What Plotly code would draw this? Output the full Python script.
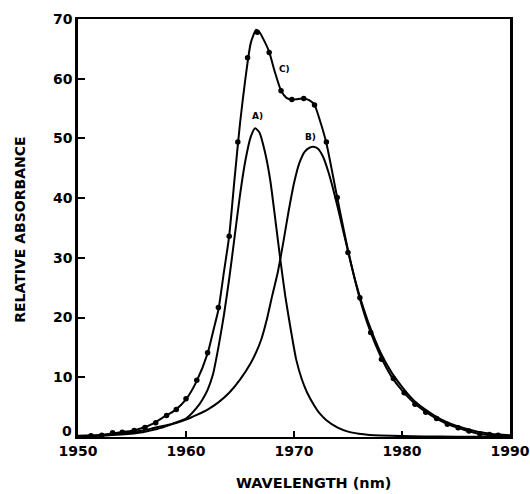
import plotly.graph_objects as go

# ---- data ----
# Component A
a_x = [1950, 1952, 1954, 1956, 1957, 1958, 1959, 1960, 1960.5, 1961, 1961.5, 1962, 1962.5,
       1963, 1963.5, 1964, 1964.5, 1965, 1965.5, 1966, 1966.4, 1966.8, 1967.3, 1967.8,
       1968.3, 1968.75, 1969.2, 1969.7, 1970.2, 1970.7, 1971.2, 1971.8, 1972.4, 1973,
       1974, 1975, 1976, 1977, 1978, 1980, 1982, 1985, 1990]
a_y = [0.1, 0.2, 0.4, 0.8, 1.2, 1.7, 2.4, 3.1, 3.9, 4.9, 6.2, 7.9, 10.5,
       15.0, 20.3, 26.5, 33.5, 40.5, 46.3, 50.3, 51.7, 51.0, 47.8, 43.0,
       36.0, 29.5, 23.5, 18.0, 13.0, 9.8, 7.5, 5.5, 3.9, 2.8,
       1.6, 0.9, 0.55, 0.35, 0.25, 0.15, 0.1, 0.05, 0.03]

# Component B
b_x = [1950, 1952, 1954, 1955, 1956, 1957, 1958, 1959, 1960, 1961, 1962, 1963, 1964,
       1965, 1966, 1966.5, 1967, 1967.5, 1968, 1968.5, 1969, 1969.5, 1970, 1970.5,
       1971, 1971.5, 1971.8, 1972.2, 1972.7, 1973.2, 1973.7, 1974.2, 1974.7, 1975.2,
       1975.7, 1976.2, 1977, 1978, 1979, 1980, 1981, 1982, 1983, 1984, 1985, 1986,
       1987, 1988, 1989, 1990]
b_y = [0.2, 0.35, 0.6, 0.85, 1.1, 1.5, 1.9, 2.3, 2.9, 3.7, 4.6, 5.8, 7.4,
       9.6, 12.4, 14.2, 16.5, 19.8, 23.8, 27.6, 32.5, 37.8, 42.5, 45.9,
       47.8, 48.5, 48.6, 48.3, 46.9, 44.3, 41.0, 37.3, 33.4, 29.6,
       26.0, 22.9, 18.6, 14.2, 10.9, 8.4, 6.3, 4.8, 3.6, 2.6, 1.9, 1.35,
       0.9, 0.6, 0.4, 0.3]

# Fitted sum C (line)
c_x = [1950, 1951, 1952, 1953, 1954, 1955, 1956, 1957, 1958, 1959, 1960, 1961, 1962,
       1962.5, 1963, 1963.5, 1964, 1964.5, 1965, 1965.5, 1966, 1966.5, 1966.8, 1967.2,
       1967.7, 1968.2, 1968.8, 1969.3, 1969.8, 1970.4, 1970.9, 1971.4, 1971.9, 1972.4,
       1973, 1974, 1975, 1976, 1977, 1978, 1979, 1980, 1981, 1982, 1983, 1984, 1985,
       1986, 1987, 1988, 1989, 1990]
c_y = [0.05, 0.1, 0.25, 0.55, 0.8, 1.05, 1.55, 2.3, 3.4, 4.5, 6.3, 9.4, 14.0,
       17.6, 21.3, 27.5, 33.7, 43.3, 52.5, 60.0, 66.0, 68.2, 67.8, 66.5,
       64.5, 61.3, 58.0, 56.8, 56.5, 56.6, 56.7, 56.4, 55.6, 53.0,
       49.2, 40.1, 31.3, 23.8, 18.0, 13.6, 10.2, 7.8, 5.9, 4.45, 3.3, 2.35, 1.65,
       1.05, 0.6, 0.35, 0.2, 0.15]

# Measured points (dots)
pt_x = [1951.2, 1952.2, 1953.2, 1954.1, 1955.2, 1956.2, 1957.2, 1958.2, 1959.1, 1960.0,
        1961.0, 1962.0, 1963.0, 1964.0, 1964.8, 1965.7, 1966.6, 1967.7, 1968.8, 1969.8,
        1970.9, 1971.9, 1973.0, 1974.0, 1975.0, 1976.1, 1977.1, 1978.1, 1979.2, 1980.2,
        1981.2, 1982.2, 1983.2, 1984.2, 1985.2, 1986.2, 1987.2, 1988.1, 1988.9]
pt_y = [0.2, 0.3, 0.7, 0.8, 1.1, 1.6, 2.4, 3.6, 4.6, 6.4,
        9.5, 14.1, 21.7, 33.6, 49.4, 63.5, 67.8, 64.4, 58.0, 56.5,
        56.7, 55.6, 49.4, 40.1, 30.9, 23.3, 17.5, 13.0, 9.8, 7.4,
        5.5, 4.15, 3.1, 2.15, 1.55, 1.0, 0.55, 0.4, 0.3]

# Curve labels
lab_text = ["A)", "B)", "C)"]
lab_x = [1966.6, 1971.5, 1969.1]
lab_y = [53.7, 50.3, 61.7]

x_ticks = [1950, 1960, 1970, 1980, 1990]
y_ticks = [10, 20, 30, 40, 50, 60, 70]
y_zero_label = "0"

FONT = "DejaVu Sans"

fig = go.Figure()
line = dict(color="black", width=2, shape="spline", smoothing=0.6)
fig.add_trace(go.Scatter(x=a_x, y=a_y, mode="lines", line=line, hoverinfo="skip"))
fig.add_trace(go.Scatter(x=b_x, y=b_y, mode="lines", line=line, hoverinfo="skip"))
fig.add_trace(go.Scatter(x=c_x, y=c_y, mode="lines", line=line, hoverinfo="skip"))
fig.add_trace(go.Scatter(x=pt_x, y=pt_y, mode="markers",
                         marker=dict(color="black", size=5.5, symbol="circle")))

for t, x, y in zip(lab_text, lab_x, lab_y):
    fig.add_annotation(x=x, y=y, text=t, showarrow=False,
                       font=dict(family=FONT, size=9, color="black", weight="bold"))

# "0" label of the y axis, sitting slightly raised at the corner as in the reference
fig.add_annotation(x=1950, y=0, text=y_zero_label, showarrow=False, xanchor="right",
                   xshift=-4, yshift=6,
                   font=dict(family=FONT, size=14, color="black", weight="bold"))

fig.add_annotation(xref="paper", yref="paper", x=0.544, y=-0.11, yanchor="middle",
                   text="WAVELENGTH (nm)", showarrow=False,
                   font=dict(family=FONT, size=14.5, color="black", weight="bold"))
fig.add_annotation(xref="paper", yref="paper", x=-0.135, y=0.495, xanchor="center",
                   text="RELATIVE ABSORBANCE", textangle=-90, showarrow=False,
                   font=dict(family=FONT, size=14, color="black", weight="bold"))

fig.update_xaxes(range=[1950, 1990], tickvals=x_ticks, ticks="inside", ticklen=6,
                 tickwidth=2, tickcolor="black", showline=True, linecolor="black",
                 linewidth=2, mirror=True, showgrid=False, zeroline=False,
                 automargin=False,
                 tickfont=dict(family=FONT, size=14, color="black", weight="bold"))
fig.update_yaxes(range=[0, 70], tickvals=y_ticks, ticks="inside", ticklen=7,
                 tickwidth=2, tickcolor="black", showline=True, linecolor="black",
                 linewidth=2.5, mirror=True, showgrid=False, zeroline=False,
                 automargin=False,
                 tickfont=dict(family=FONT, size=14, color="black", weight="bold"))

fig.update_layout(width=530, height=494, showlegend=False,
                  margin=dict(l=78, r=20, t=19, b=57),
                  plot_bgcolor="white", paper_bgcolor="white")

fig.write_html("out.html")
